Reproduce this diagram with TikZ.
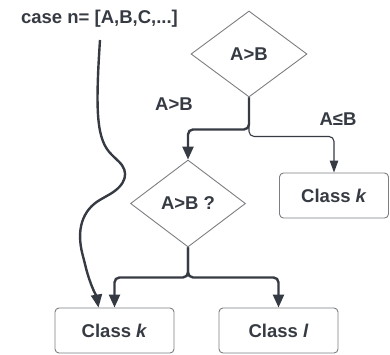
\documentclass[tikz,border=0pt]{standalone}
\usepackage{fontspec}
\setmainfont{Liberation Sans}
\usetikzlibrary{shapes.geometric,arrows.meta}
\definecolor{ink}{HTML}{363B43}
\definecolor{rim}{HTML}{7B7E83}
\tikzset{
  boldline/.style={draw=ink,line width=2.4pt,rounded corners=5pt,-{Triangle[length=13pt,width=11pt]}},
  thinline/.style={draw=ink,line width=1.1pt,rounded corners=5pt,-{Triangle[length=12pt,width=8.5pt]}}
}
\begin{document}
\begin{tikzpicture}[x=1pt,y=-1pt,font=\fontsize{18.5}{22}\selectfont\bfseries,text=ink]
      \useasboundingbox (0,0) rectangle (390,354);
      \node (title) [anchor=base] at (99.5,23) {case n= [A,B,C,...]};
      \coordinate (start) at (100,40);
      \begin{scope}[every node/.style={diamond,draw=rim,line width=0.9pt,inner sep=0pt}]
        \node (d1) [minimum width=116pt,minimum height=86pt] at (249,54) {A>B};
        \node (d2) [minimum width=115pt,minimum height=87pt] at (188,203.5) {A>B ?};
      \end{scope}
      \begin{scope}[every node/.style={rectangle,rounded corners=4pt,draw=rim,line width=0.9pt,minimum height=45pt}]
        \node (kR) [minimum width=109pt] at (334,195.5) {Class \textit{k}};
        \node (kL) [minimum width=119pt] at (114.5,330.5) {Class \textit{k}};
        \node (l) [minimum width=119pt] at (278.5,330.5) {Class \textit{l}};
      \end{scope}
      \node (yes) at (174,104.5) {A>B};
      \node (no) at (338,119.5) {A≤B};
      \draw[thinline] (d1.south) -- ++(0,39) -| (kR.north);
      \draw[boldline] (d1.south) -- ++(0,32) -| (d2.north);
      \draw[boldline] (d2.south) -- ++(0,30) -| (kL.north);
      \draw[boldline] (d2.south) -- ++(0,30) -| (l.north);
      \draw[boldline] (start) .. controls (95,115) and (97,140) .. (115,158)
        .. controls (130,172) and (126,185) .. (105,197)
        .. controls (82,210) and (76,230) .. (84,260)
        .. controls (90,285) and (97,298) .. ([xshift=-16pt]kL.north);
    \end{tikzpicture}
\end{document}
